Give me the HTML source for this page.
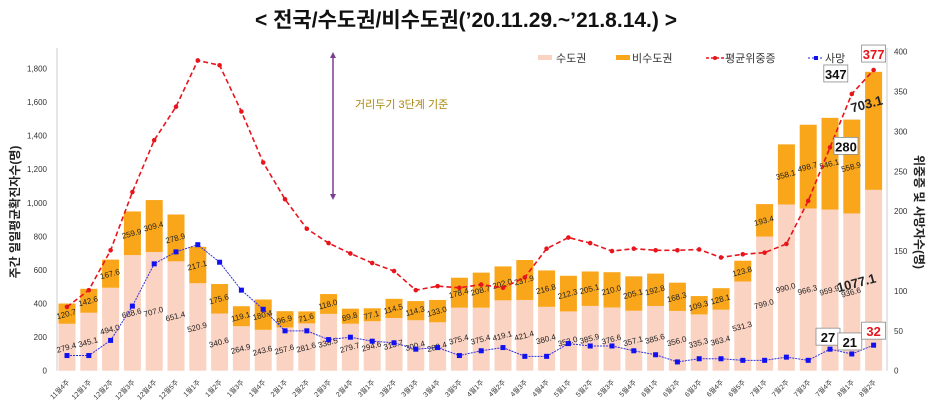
<!DOCTYPE html>
<html><head><meta charset="utf-8"><style>
body{margin:0;background:#fff;}
svg{display:block;font-family:"Liberation Sans","Noto Sans CJK KR",sans-serif;}
</style></head><body>
<svg id="chart" width="933" height="407" viewBox="0 0 933 407" xmlns="http://www.w3.org/2000/svg">
<text x="466" y="27" text-anchor="middle" font-size="21" font-weight="bold" fill="#111" font-family="Liberation Sans, Noto Sans CJK KR, sans-serif">&lt; 전국/수도권/비수도권(’20.11.29.~’21.8.14.) &gt;</text>
<g id="legend">
 <rect x="538" y="55" width="14" height="5" fill="#fbd3c3"/>
 <text x="556" y="62" font-size="11" fill="#333">수도권</text>
 <rect x="616" y="55" width="14" height="5" fill="#f9a61a"/>
 <text x="632" y="62" font-size="11" fill="#333">비수도권</text>
 <line x1="706" y1="58" x2="724" y2="58" stroke="#e8141c" stroke-dasharray="3,2" stroke-width="1.5"/>
 <circle cx="715" cy="58" r="2" fill="#e8141c"/>
 <text x="725" y="62" font-size="11" fill="#333">평균위중증</text>
 <line x1="808" y1="58" x2="824" y2="58" stroke="#2020e0" stroke-dasharray="2,2"/>
 <rect x="814" y="56" width="4" height="4" fill="#1010f0"/>
 <text x="825" y="62" font-size="11" fill="#333">사망</text>
</g>
<line x1="333" y1="56" x2="333" y2="197" stroke="#7b3f8f" stroke-width="1.5"/>
<polygon points="333,52 330,58 336,58" fill="#7b3f8f"/>
<polygon points="333,200 330,194 336,194" fill="#7b3f8f"/>
<text x="355" y="108" font-size="11" fill="#a8860c">거리두기 3단계 기준</text>
<text transform="translate(19,212) rotate(-90)" text-anchor="middle" font-size="12" font-weight="bold" fill="#222">주간 일일평균확진자수(명)</text>
<text transform="translate(915,212) rotate(90)" text-anchor="middle" font-size="12" font-weight="bold" fill="#222">위중증 및 사망자수(명)</text>
<g id="plot"></g>
</svg>
<script>
const categories=["11월4주","12월1주","12월2주","12월3주","12월4주","12월5주","1월1주","1월2주","1월3주","1월4주","2월1주","2월2주","2월3주","2월4주","3월1주","3월2주","3월3주","3월4주","3월5주","4월1주","4월2주","4월3주","4월4주","5월1주","5월2주","5월3주","5월4주","6월1주","6월2주","6월3주","6월4주","6월5주","7월1주","7월2주","7월3주","7월4주","8월1주","8월2주"];
const capital=[279.4,345.1,494.0,688.6,707.0,651.4,520.9,340.6,264.9,243.6,257.6,281.6,338.5,279.7,294.6,313.7,300.4,288.4,375.4,375.4,419.1,421.4,380.4,353.0,385.9,376.6,357.1,385.6,356.0,335.3,363.4,531.3,799.0,990.0,966.3,959.9,936.6,1077.1];
const nonCapital=[120.7,142.6,167.6,259.9,309.4,278.9,217.1,175.6,119.1,180.4,96.9,71.6,118.0,89.8,77.1,114.5,114.3,133.0,178.4,208.7,202.0,237.9,216.8,212.3,205.1,210.0,205.1,192.8,168.3,109.3,128.1,123.8,193.4,358.1,498.7,546.1,558.9,703.1];
const severe=[80,101,151,224,289,331,389,383,325,261,215,178,160,147,135,125,101,106,104,108,104,117,153,167,160,150,153,151,151,152,142,146,148,159,213,280,347,377];
const deaths=[19,19,38,81,134,149,158,136,101,77,50,50,39,42,37,35,27,29,19,25,29,18,18,34,31,31,25,20,11,15,15,13,13,17,13,27,21,32];
const leftTicks=[0,200,400,600,800,1000,1200,1400,1600,1800];
const rightTicks=[0,50,100,150,200,250,300,350,400];

const NS="http://www.w3.org/2000/svg";
const g=document.getElementById('plot');
const X0=67,DX=21.8,Y0=370.7,LMAX=1900,RMAX=400,YTOP=51.7;
const xAt=i=>X0+DX*i;
const yL=v=>Y0-(Y0-YTOP)*v/LMAX;
const yR=v=>Y0-(Y0-YTOP)*v/RMAX;
function mk(tag,attrs,txt){const e=document.createElementNS(NS,tag);for(const k in attrs)e.setAttribute(k,attrs[k]);if(txt!==undefined)e.textContent=txt;g.appendChild(e);return e;}

let e=mk('line',{x1:57,y1:48,x2:57,y2:Y0,stroke:'#ccc'});


e=mk('line',{x1:887,y1:48,x2:887,y2:Y0,stroke:'#ccc'});


leftTicks.forEach(t=>{const el=mk('text',{x:47,y:yL(t)+3,'text-anchor':'end','font-size':8,fill:'#333'},t.toLocaleString('en-US'));

});
rightTicks.forEach(t=>{const el=mk('text',{x:894,y:yR(t)+3,'font-size':8,fill:'#333'},t);

});

categories.forEach((c,i)=>{
 const x=xAt(i),w=17;
 const yc=yL(capital[i]),yt=yL(capital[i]+nonCapital[i]);
 let r=mk('rect',{x:x-w/2,y:yc,width:w,height:Y0-yc,fill:'#fbd3c3'});
 
 
 r=mk('rect',{x:x-w/2,y:yt,width:w,height:yc-yt,fill:'#f9a61a'});
 
 
 const last=i===categories.length-1;
 const fs=last?13:8, fw=last?'bold':'normal';
 let cy=(yc+Y0)/2+3;
 let cx=x;
 if(last){cy=(yc+Y0)/2+7;cx=x-16;}
 let t=mk('text',{x:cx,y:cy,'text-anchor':'middle','font-size':fs,'font-weight':fw,fill:'#222',transform:`rotate(-15 ${cx} ${cy})`},capital[i].toFixed(1));
 
 
 let ny=(yc+yt)/2+3; if(last) ny=yt+35;
 t=mk('text',{x:last?x-6:x,y:ny,'text-anchor':'middle','font-size':fs,'font-weight':fw,fill:'#222',transform:`rotate(-15 ${x} ${ny})`},nonCapital[i].toFixed(1));
 
 
 const lx=x+3,ly=Y0+12;
 t=mk('text',{x:lx,y:ly,'text-anchor':'end','font-size':7,fill:'#333',transform:`rotate(-45 ${lx} ${ly})`},c);
 
 
});

let p=mk('polyline',{points:severe.map((v,i)=>xAt(i)+','+yR(v)).join(' '),fill:'none',stroke:'#e8141c','stroke-width':1.6,'stroke-dasharray':'5,3'});


severe.forEach((v,i)=>{const c=mk('circle',{cx:xAt(i),cy:yR(v),r:2.3,fill:'#e8141c'});

});
p=mk('polyline',{points:deaths.map((v,i)=>xAt(i)+','+yR(v)).join(' '),fill:'none',stroke:'#3030e0','stroke-width':1,'stroke-dasharray':'2,1'});


deaths.forEach((v,i)=>{const c=mk('rect',{x:xAt(i)-2.5,y:yR(v)-2.5,width:5,height:5,fill:'#1010f0'});

});

function box(i,v,series,dx,dy,red){
 const x=xAt(i)+dx, y=(series==='s'?yR(severe[i]):yR(deaths[i]))+dy;
 let r=mk('rect',{x:x-12,y:y-9,width:24,height:17,fill:'#fff',stroke:'#8a8a8a','stroke-width':0.8});
 
 
 let t=mk('text',{x:x,y:y+5,'text-anchor':'middle','font-size':13,'font-weight':'bold',fill:red?'#e8141c':'#111'},v);
 
 
}
box(35,severe[35],'s',16,-1,false);
box(36,severe[36],'s',-16,-20,false);
box(37,severe[37],'s',0,-16,true);
box(35,deaths[35],'d',-2,-12,false);
box(36,deaths[36],'d',-2,-12,false);
box(37,deaths[37],'d',0,-14,true);
</script>
</body></html>
